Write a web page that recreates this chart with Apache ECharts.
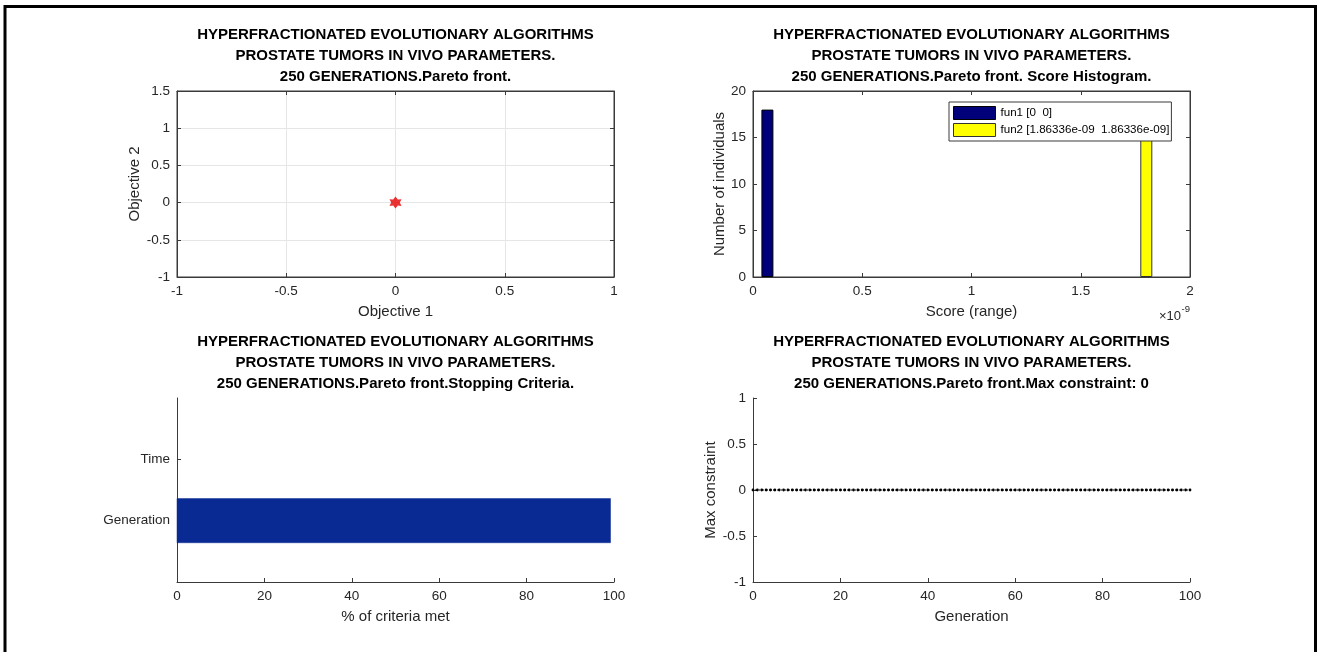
<!DOCTYPE html>
<html>
<head>
<meta charset="utf-8">
<script src="https://cdn.jsdelivr.net/npm/echarts@6/dist/echarts.min.js"></script>
<style>
  html, body { margin: 0; padding: 0; background: #fff; }
  #main { width: 1317px; height: 652px; }
</style>
</head>
<body>
<div id="main"></div>
<script>
// ---- data ----
const titleLine1 = 'HYPERFRACTIONATED EVOLUTIONARY ALGORITHMS';
const titleLine2 = 'PROSTATE TUMORS IN VIVO PARAMETERS.';
const panelTitles = [
  '250 GENERATIONS.Pareto front.',
  '250 GENERATIONS.Pareto front. Score Histogram.',
  '250 GENERATIONS.Pareto front.Stopping Criteria.',
  '250 GENERATIONS.Pareto front.Max constraint: 0'
];

// Pareto front (objective 1, objective 2)
const paretoObj1 = [0];
const paretoObj2 = [1.86336e-9];

// Score histogram: bin centres (x 1e-9) and counts per function
const funNames = ['fun1 [0  0]', 'fun2 [1.86336e-09  1.86336e-09]'];
const scoreBinCenters = [0.066, 1.80];
const scoreCounts = [18, 18];

// Stopping criteria (% met)
const criteriaNames = ['Generation', 'Time'];
const criteriaMet = [99.2, 0];

// Max constraint per generation (generation 0..100)
const maxConstraint = [
  0,0,0,0,0,0,0,0,0,0, 0,0,0,0,0,0,0,0,0,0,
  0,0,0,0,0,0,0,0,0,0, 0,0,0,0,0,0,0,0,0,0,
  0,0,0,0,0,0,0,0,0,0, 0,0,0,0,0,0,0,0,0,0,
  0,0,0,0,0,0,0,0,0,0, 0,0,0,0,0,0,0,0,0,0,
  0,0,0,0,0,0,0,0,0,0, 0,0,0,0,0,0,0,0,0,0,
  0
];

// ---- styling helpers ----
const FONT = '"Liberation Sans", Arial, Helvetica, sans-serif';
const AX = '#262626';
const LINE = '#3a3a3a';

const grids = [
  { left: 177, top: 91, width: 437, height: 186 },
  { left: 753, top: 91, width: 437, height: 186 },
  { left: 177, top: 398, width: 437, height: 184 },
  { left: 753, top: 398, width: 437, height: 184 }
];

function axis(gridIndex, min, max, interval, extra) {
  return Object.assign({
    type: 'value', gridIndex, min, max, interval,
    axisLine: { show: true, onZero: false, lineStyle: { color: LINE, width: 1 } },
    axisTick: { show: true, inside: true, length: 4, lineStyle: { color: LINE } },
    axisLabel: { color: AX, fontSize: 13.5, fontFamily: FONT, margin: 7 },
    splitLine: { show: false },
    nameLocation: 'middle',
    nameTextStyle: { color: AX, fontSize: 15, fontFamily: FONT }
  }, extra || {});
}
function mirror(base, position) {
  return Object.assign({}, base, {
    position, name: '', axisLabel: { show: false }, splitLine: { show: false }
  });
}
const gridLine = { show: true, lineStyle: { color: '#e6e6e6', width: 1 } };

const x0 = axis(0, -1, 1, 0.5, { name: 'Objective 1', nameGap: 27, splitLine: gridLine });
const y0 = axis(0, -1, 1.5, 0.5, { name: 'Objective 2', nameGap: 34, splitLine: gridLine });
const x1 = axis(1, 0, 2, 0.5, { name: 'Score (range)', nameGap: 27 });
const y1 = axis(1, 0, 20, 5, { name: 'Number of individuals', nameGap: 26 });
const x2 = axis(2, 0, 100, 20, { name: '% of criteria met', nameGap: 27 });
const y2 = axis(2, 0, 3, 1, {
  axisTick: { show: true, inside: true, length: 4, lineStyle: { color: LINE }, customValues: [1, 2] },
  axisLabel: { color: AX, fontSize: 13.5, fontFamily: FONT, margin: 7, customValues: [1, 2],
               formatter: v => criteriaNames[v - 1] || '' }
});
const x3 = axis(3, 0, 100, 20, { name: 'Generation', nameGap: 27 });
const y3 = axis(3, -1, 1, 0.5, { name: 'Max constraint', nameGap: 34 });

// titles drawn as three centred lines above each panel
const titleGraphics = [];
grids.forEach((g, i) => {
  const cx = g.left + g.width / 2;
  const lines = [titleLine1, titleLine2, panelTitles[i]];
  lines.forEach((t, k) => {
    titleGraphics.push({
      type: 'text', x: cx, y: g.top - 56 + k * 21,
      style: { text: t, textAlign: 'center', textVerticalAlign: 'middle',
               fill: '#000', font: 'bold 15px ' + FONT }
    });
  });
});

const chart = echarts.init(document.getElementById('main'), null, { renderer: 'canvas' });
chart.setOption({
  animation: false,
  backgroundColor: '#fff',
  grid: grids.map((g, i) => Object.assign({
    show: i < 2, borderColor: LINE, borderWidth: 1, backgroundColor: 'transparent',
    containLabel: false, outerBoundsMode: 'none'
  }, g)),
  xAxis: [x0, mirror(x0, 'top'), x1, mirror(x1, 'top'), x2, x3],
  yAxis: [y0, mirror(y0, 'right'), y1, mirror(y1, 'right'), y2, y3],
  legend: {
    left: 949, top: 102, orient: 'vertical', selectedMode: false,
    padding: [4, 2, 4, 4], itemGap: 3, itemWidth: 42, itemHeight: 13,
    backgroundColor: '#fff', borderColor: LINE, borderWidth: 1, borderRadius: 0,
    textStyle: { fontSize: 11.6, color: '#000', fontFamily: FONT },
    data: [
      { name: funNames[0], icon: 'rect', itemStyle: { color: '#00007a', borderColor: '#000', borderWidth: 1 } },
      { name: funNames[1], icon: 'rect', itemStyle: { color: '#ffff00', borderColor: '#333', borderWidth: 1 } }
    ]
  },
  graphic: [
    { type: 'rect', shape: { x: 5, y: 6.5, width: 1310.5, height: 680 },
      style: { fill: 'none', stroke: '#000', lineWidth: 3 }, z: 100 },
    { type: 'text', x: 1181, y: 316,
      style: { text: '×10', textAlign: 'right', textVerticalAlign: 'middle', fill: AX, font: '13px ' + FONT } },
    { type: 'text', x: 1181.5, y: 309,
      style: { text: '-9', textAlign: 'left', textVerticalAlign: 'middle', fill: AX, font: '9.5px ' + FONT } }
  ].concat(titleGraphics),
  series: [
    {
      type: 'scatter', xAxisIndex: 0, yAxisIndex: 0,
      data: paretoObj1.map((v, i) => [v, paretoObj2[i]]),
      symbol: 'path://M0,-10L3.5,-5L9,-5.5L6.5,0L9,5.5L3.5,5L0,10L-3.5,5L-9,5.5L-6.5,0L-9,-5.5L-3.5,-5Z',
      symbolSize: 12, itemStyle: { color: '#e60000' }
    },
    {
      name: funNames[0], type: 'bar', xAxisIndex: 2, yAxisIndex: 2,
      data: [[scoreBinCenters[0], scoreCounts[0]]], barWidth: 12, barGap: '-100%',
      itemStyle: { color: '#00007a', borderColor: '#000', borderWidth: 1 }
    },
    {
      name: funNames[1], type: 'bar', xAxisIndex: 2, yAxisIndex: 2,
      data: [[scoreBinCenters[1], scoreCounts[1]]], barWidth: 12, barGap: '-100%',
      itemStyle: { color: '#ffff00', borderColor: '#333', borderWidth: 1 }
    },
    {
      type: 'custom', xAxisIndex: 4, yAxisIndex: 4,
      data: criteriaMet.map((v, i) => [v, i + 1]),
      renderItem: (params, api) => {
        const v = api.value(0), pos = api.value(1);
        if (!(v > 0)) return null;
        const p0 = api.coord([0, pos + 0.36]);
        const p1 = api.coord([v, pos - 0.36]);
        return {
          type: 'rect',
          shape: { x: p0[0], y: p0[1], width: p1[0] - p0[0], height: p1[1] - p0[1] },
          style: { fill: '#0a2a93', stroke: '#0a2a93', lineWidth: 0.5 }
        };
      }
    },
    {
      type: 'line', xAxisIndex: 5, yAxisIndex: 5,
      data: maxConstraint.map((v, i) => [i, v]),
      symbol: 'circle', symbolSize: 2.8, showSymbol: true,
      itemStyle: { color: '#000' },
      lineStyle: { color: '#000', width: 1, type: 'dotted' }
    }
  ]
});
</script>
</body>
</html>
